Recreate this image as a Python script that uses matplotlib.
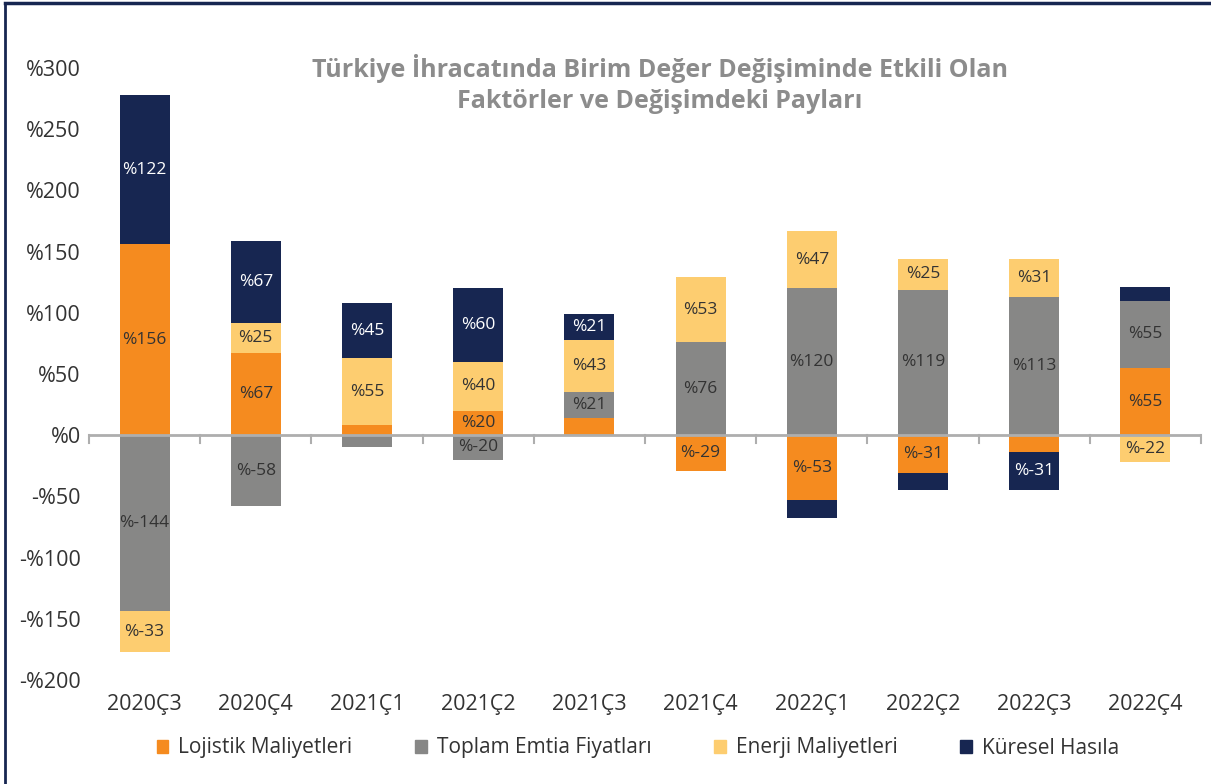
import matplotlib
matplotlib.use("Agg")
import matplotlib.pyplot as plt
import numpy as np
from matplotlib.patches import Rectangle
from matplotlib.lines import Line2D

categories = ["2020Ç3", "2020Ç4", "2021Ç1", "2021Ç2", "2021Ç3",
              "2021Ç4", "2022Ç1", "2022Ç2", "2022Ç3", "2022Ç4"]
lojistik = [156, 67, 8, 20, 14, -29, -53, -31, -14, 55]
emtia    = [-144, -58, -10, -20, 21, 76, 120, 119, 113, 55]
enerji   = [-33, 25, 55, 40, 43, 53, 47, 25, 31, -22]
kuresel  = [122, 67, 45, 60, 21, 0, -15, -14, -31, 11]

series_names = ["Lojistik Maliyetleri", "Toplam Emtia Fiyatları",
                "Enerji Maliyetleri", "Küresel Hasıla"]
series = [lojistik, emtia, enerji, kuresel]
colors = ["#F58B1F", "#878786", "#FDCD70", "#172651"]
label_colors = ["#333333", "#333333", "#333333", "#FFFFFF"]

yticks = [-200, -150, -100, -50, 0, 50, 100, 150, 200, 250, 300]
ytick_labels = ["-%200", "-%150", "-%100", "-%50", "%0", "%50", "%100",
                "%150", "%200", "%250", "%300"]

title = "Türkiye İhracatında Birim Değer Değişiminde Etkili Olan\nFaktörler ve Değişimdeki Payları"

plt.rcParams['font.family'] = ['Open Sans', 'DejaVu Sans']

fig = plt.figure(figsize=(12.11, 7.84), dpi=100)
ax = fig.add_axes([89/1211, 104/784, 1112/1211, 612/784])

x = np.arange(len(categories))
width = 0.45
pos_base = np.zeros(len(categories))
neg_base = np.zeros(len(categories))
for vals, col, lcol in zip(series, colors, label_colors):
    vals = np.array(vals, dtype=float)
    bottoms = np.where(vals >= 0, pos_base, neg_base)
    ax.bar(x, vals, width, bottom=bottoms, color=col, zorder=2)
    for xi, v, b in zip(x, vals, bottoms):
        if abs(v) >= 18:
            ax.text(xi, b + v / 2, f"%{int(v)}", ha="center", va="center",
                    fontsize=12.5, color=lcol, zorder=4)
    pos_base = pos_base + np.where(vals >= 0, vals, 0)
    neg_base = neg_base + np.where(vals < 0, vals, 0)

ax.set_xlim(-0.5, len(categories) - 0.5)
ax.set_ylim(-200, 300)
ax.set_yticks(yticks)
ax.set_yticklabels(ytick_labels, fontsize=15.5, color="#333333")
ax.tick_params(axis="y", length=0, pad=6)

for s in ["top", "right", "left", "bottom"]:
    ax.spines[s].set_visible(False)
ax.axhline(0, color="#AEAEAE", lw=2, zorder=3)
for b in np.arange(-0.5, len(categories), 1.0):
    ax.plot([b, b], [0, -6.5], color="#AEAEAE", lw=1.5, zorder=3, clip_on=False)

ax.set_xticks(x)
ax.set_xticklabels(categories, fontsize=15.5, color="#333333")
ax.tick_params(axis="x", length=0, pad=10)

fig.text(660/1211, 1 - 84/784, title, ha="center", va="center",
         fontsize=18, fontweight="bold", color="#8C8C8C", linespacing=1.3)

handles = [Rectangle((0, 0), 1, 1, color=c) for c in colors]
leg = fig.legend(handles, series_names, loc="center", bbox_to_anchor=(638/1211, 1 - 748/784),
                 ncol=4, frameon=False, fontsize=15, handlelength=0.55, handleheight=0.6,
                 columnspacing=3.0, handletextpad=0.5, labelcolor="#333333")

# frame lines
fig.add_artist(Line2D([5/1211, 5/1211], [0, 1 - 3/784], transform=fig.transFigure,
                      color="#172651", lw=2))
fig.add_artist(Line2D([5/1211, 1], [1 - 3/784, 1 - 3/784], transform=fig.transFigure,
                      color="#172651", lw=2.5))

fig.savefig("out.png", dpi=100)
